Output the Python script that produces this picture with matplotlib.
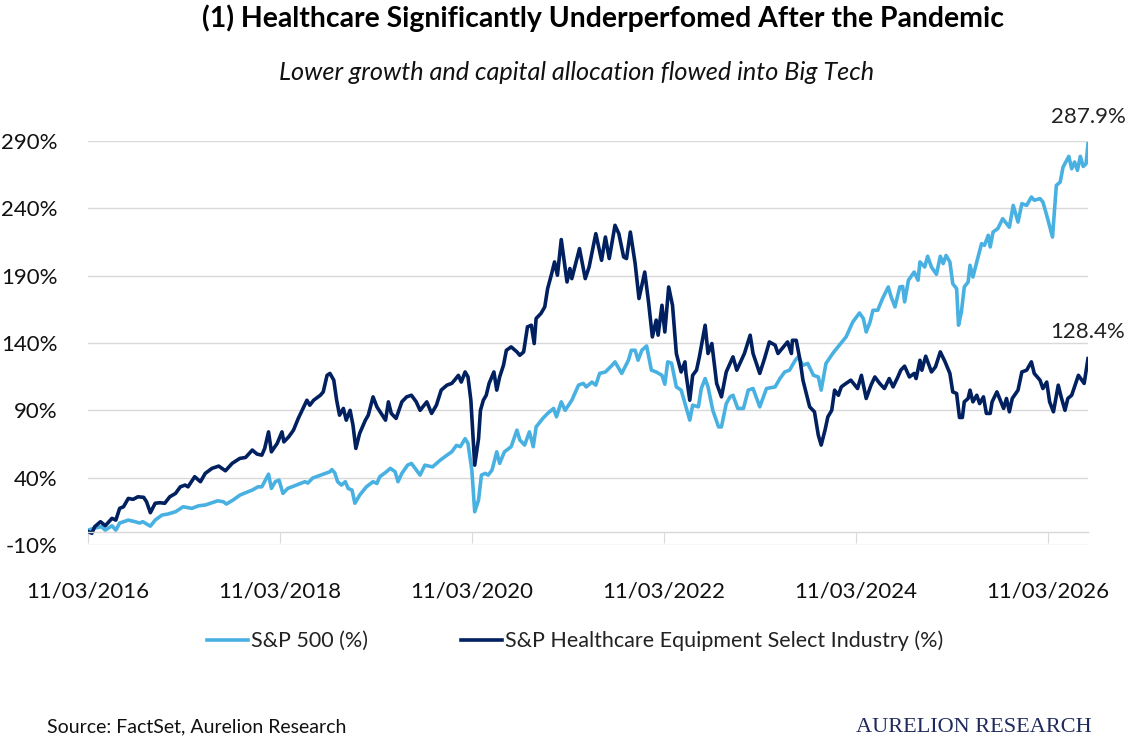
import pandas as pd
import matplotlib
matplotlib.use("Agg")
from matplotlib import pyplot as plt
import matplotlib.dates as mdates

# Dates are decimal years, values are cumulative return in %
sp500_t = [2016.19, 2016.26, 2016.33, 2016.37, 2016.44, 2016.48, 2016.52, 2016.61, 2016.68, 2016.73,
           2016.76, 2016.84, 2016.89, 2016.96, 2017.02, 2017.10, 2017.18, 2017.27, 2017.34, 2017.41,
           2017.48, 2017.54, 2017.60, 2017.63, 2017.70, 2017.77, 2017.83, 2017.90, 2017.96, 2018.00,
           2018.07, 2018.10, 2018.14, 2018.18, 2018.22, 2018.27, 2018.36, 2018.45, 2018.48, 2018.53,
           2018.64, 2018.71, 2018.73, 2018.76, 2018.79, 2018.83, 2018.87, 2018.90, 2018.94, 2018.97,
           2019.02, 2019.09, 2019.16, 2019.20, 2019.23, 2019.30, 2019.34, 2019.39, 2019.42, 2019.46,
           2019.52, 2019.56, 2019.65, 2019.70, 2019.78, 2019.86, 2019.93, 2019.98, 2020.03, 2020.07,
           2020.12, 2020.15, 2020.19, 2020.22, 2020.26, 2020.29, 2020.33, 2020.36, 2020.40, 2020.45,
           2020.48, 2020.53, 2020.60, 2020.66, 2020.69, 2020.74, 2020.79, 2020.83, 2020.86, 2020.93,
           2020.98, 2021.04, 2021.07, 2021.12, 2021.16, 2021.23, 2021.30, 2021.35, 2021.38, 2021.44,
           2021.48, 2021.52, 2021.58, 2021.65, 2021.68, 2021.75, 2021.82, 2021.85, 2021.89, 2021.92,
           2021.96, 2022.01, 2022.06, 2022.11, 2022.17, 2022.20, 2022.23, 2022.27, 2022.32, 2022.37,
           2022.41, 2022.46, 2022.49, 2022.55, 2022.58, 2022.62, 2022.65, 2022.70, 2022.76, 2022.79,
           2022.84, 2022.88, 2022.91, 2022.96, 2023.02, 2023.07, 2023.12, 2023.19, 2023.26, 2023.35,
           2023.40, 2023.45, 2023.50, 2023.56, 2023.59, 2023.64, 2023.69, 2023.75, 2023.80, 2023.83,
           2023.88, 2023.95, 2024.02, 2024.09, 2024.16, 2024.23, 2024.27, 2024.30, 2024.34, 2024.37,
           2024.42, 2024.47, 2024.53, 2024.56, 2024.60, 2024.65, 2024.68, 2024.70, 2024.74, 2024.80,
           2024.84, 2024.86, 2024.91, 2024.94, 2024.98, 2025.03, 2025.07, 2025.10, 2025.13, 2025.17,
           2025.20, 2025.24, 2025.26, 2025.29, 2025.32, 2025.36, 2025.38, 2025.41, 2025.45, 2025.50,
           2025.53, 2025.57, 2025.59, 2025.62, 2025.67, 2025.72, 2025.79, 2025.83, 2025.86, 2025.88,
           2025.92, 2025.97, 2026.02, 2026.05, 2026.11, 2026.14, 2026.18, 2026.24, 2026.28, 2026.32,
           2026.35, 2026.41, 2026.44, 2026.47, 2026.50, 2026.53, 2026.56, 2026.59, 2026.61]
sp500_v = [1, 2.6, 3.6, 1, 4.3, 1, 6.3, 8.5, 7.3, 6.3,
           7.3, 4, 8.5, 12.2, 13, 14.7, 18.4, 17.2, 19.1, 19.7,
           21.4, 22.8, 22.1, 20.4, 23.4, 27, 28.8, 30.8, 33.2, 33.2,
           42.6, 32, 37, 38.2, 28.3, 32, 34.5, 37, 36, 39.7,
           42.6, 44.4, 46, 43.6, 37, 34.5, 37, 32, 30.8, 21,
           27, 33.2, 37, 35.7, 40.7, 44.4, 46.9, 44.4, 37, 43.2,
           49.3, 50.6, 41.9, 49.3, 48, 53, 56.7, 59.2, 64, 63,
           69, 65.4, 45.6, 14.7, 23.4, 41.9, 43.2, 41.9, 45.6, 59.2,
           50.6, 59.2, 63, 75.3, 68, 64.2, 74, 63, 77.7, 84,
           87.7, 91.4, 85.2, 96.3, 90, 97.5, 108.7, 110, 107.4, 111,
           108.7, 117.4, 118.5, 123.5, 126, 117.4, 127.2, 134.6, 134.6, 127.2,
           134.6, 137.8, 119.8, 118.5, 116, 109.4, 126, 125, 107.4, 105,
           95, 82.7, 93.8, 92.6, 106.2, 113.6, 107.4, 90, 77.7, 77.7,
           95, 100, 101.2, 91.4, 91.4, 105, 106.2, 92.6, 106.2, 107.4,
           113.6, 118.5, 119.8, 127.2, 129.7, 123.5, 124.8, 116, 114.8, 105,
           124.8, 132.2, 138.4, 144.5, 155.6, 162.3, 158.2, 148.2, 155.6, 164.3,
           164.3, 173, 181.6, 174.2, 166.8, 181.6, 182, 170.5, 186.6, 192.7,
           186.6, 200.2, 196.4, 204.4, 196.4, 191, 204.4, 199, 205, 200.2,
           184, 180.4, 153.2, 163, 181.6, 185.3, 197.7, 189, 200.2, 213.8,
           212.5, 220, 211.3, 222.4, 225, 232.3, 226, 242.2, 234.8, 229.8,
           243.5, 242.2, 248.4, 246, 247.2, 244.7, 234.8, 218.7, 257, 259.5,
           270.6, 278.6, 269.4, 274.4, 268.2, 278.6, 271.1, 273.1, 287.9]

hc_t = [2016.19, 2016.23, 2016.26, 2016.32, 2016.37, 2016.44, 2016.48, 2016.52, 2016.56, 2016.61,
        2016.66, 2016.71, 2016.77, 2016.80, 2016.84, 2016.89, 2016.94, 2016.99, 2017.04, 2017.10,
        2017.15, 2017.20, 2017.23, 2017.30, 2017.36, 2017.41, 2017.48, 2017.55, 2017.62, 2017.69,
        2017.77, 2017.83, 2017.90, 2017.95, 2018.00, 2018.03, 2018.07, 2018.10, 2018.16, 2018.21,
        2018.23, 2018.28, 2018.33, 2018.38, 2018.43, 2018.47, 2018.50, 2018.54, 2018.61, 2018.64,
        2018.68, 2018.71, 2018.75, 2018.78, 2018.81, 2018.85, 2018.88, 2018.92, 2018.95, 2018.98,
        2019.02, 2019.08, 2019.11, 2019.16, 2019.20, 2019.29, 2019.32, 2019.35, 2019.40, 2019.46,
        2019.51, 2019.56, 2019.61, 2019.65, 2019.72, 2019.77, 2019.82, 2019.87, 2019.93, 2019.98,
        2020.01, 2020.05, 2020.08, 2020.12, 2020.15, 2020.18, 2020.22, 2020.26, 2020.28, 2020.31,
        2020.34, 2020.37, 2020.42, 2020.45, 2020.48, 2020.52, 2020.55, 2020.60, 2020.66, 2020.69,
        2020.73, 2020.77, 2020.81, 2020.84, 2020.86, 2020.91, 2020.95, 2020.98, 2021.02, 2021.05,
        2021.08, 2021.12, 2021.18, 2021.21, 2021.23, 2021.31, 2021.37, 2021.41, 2021.48, 2021.54,
        2021.58, 2021.62, 2021.68, 2021.72, 2021.77, 2021.80, 2021.84, 2021.89, 2021.93, 2021.99,
        2022.03, 2022.07, 2022.11, 2022.13, 2022.17, 2022.20, 2022.24, 2022.28, 2022.32, 2022.37,
        2022.41, 2022.42, 2022.46, 2022.49, 2022.53, 2022.56, 2022.62, 2022.65, 2022.69, 2022.74,
        2022.79, 2022.84, 2022.88, 2022.91, 2022.95, 2023.03, 2023.09, 2023.12, 2023.19, 2023.24,
        2023.29, 2023.35, 2023.38, 2023.48, 2023.52, 2023.53, 2023.57, 2023.61, 2023.64, 2023.71,
        2023.76, 2023.80, 2023.83, 2023.87, 2023.90, 2023.94, 2023.97, 2024.01, 2024.04, 2024.09,
        2024.14, 2024.21, 2024.25, 2024.30, 2024.35, 2024.39, 2024.44, 2024.49, 2024.54, 2024.58,
        2024.63, 2024.66, 2024.70, 2024.75, 2024.80, 2024.82, 2024.86, 2024.88, 2024.92, 2024.98,
        2025.02, 2025.07, 2025.12, 2025.17, 2025.20, 2025.24, 2025.27, 2025.30, 2025.32, 2025.36,
        2025.38, 2025.41, 2025.45, 2025.48, 2025.52, 2025.55, 2025.59, 2025.61, 2025.66, 2025.73,
        2025.76, 2025.79, 2025.82, 2025.88, 2025.92, 2025.97, 2026.02, 2026.05, 2026.11, 2026.14,
        2026.18, 2026.21, 2026.25, 2026.30, 2026.33, 2026.37, 2026.40, 2026.44, 2026.51, 2026.57,
        2026.61]
hc_v = [0, -1.3, 3.6, 7.3, 4.3, 9.8, 8.5, 17.2, 18.4, 24.6,
        23.9, 25.8, 25.4, 22.1, 14, 21, 21.4, 21, 25.8, 28.3,
        33.2, 34.5, 33.2, 40.7, 37, 43.2, 46.9, 48.6, 45.1, 50.6,
        54.3, 55, 60.5, 57.5, 56.7, 61.7, 74, 59.2, 65.4, 74,
        66.6, 70.3, 75.3, 84, 91.4, 97.5, 93.8, 97.5, 101.2, 103.7,
        116, 117.4, 112.4, 97.5, 86.4, 91.4, 82.7, 90, 79, 61.7,
        72.8, 82.7, 86.4, 100, 92.6, 82.7, 96.3, 87.7, 84, 96.3,
        100, 101.2, 96.3, 90, 96.3, 87.7, 93.8, 105, 108.7, 110,
        112.4, 116, 111, 118.5, 114.8, 97.5, 49.3, 69, 90, 97.5,
        101.2, 110, 118.5, 105, 114.8, 123.5, 134.6, 137.1, 133.4, 130.9,
        133.4, 152, 153.2, 139.6, 158.2, 161.9, 166.8, 180.4, 191.5, 200.2,
        190.3, 216.8, 185.3, 195.3, 187.8, 210.1, 187.8, 196.4, 221.2, 201.4,
        218.7, 202.7, 227.4, 221.2, 203.9, 202.7, 222.4, 199, 173, 192.7,
        170.5, 144.5, 157, 145.8, 168, 148.2, 181.6, 168, 132.2, 118.5,
        126, 117.4, 97.5, 116, 119.8, 129.7, 153.2, 132.2, 139.6, 110,
        100, 118.5, 124.8, 129.7, 119.8, 132.2, 145.8, 132.2, 117.4, 128.5,
        140.8, 138.4, 132.2, 140.8, 132.2, 142, 142, 127.2, 112.4, 92.6,
        88.9, 71.6, 64.2, 75.3, 85.2, 90, 105, 101.2, 107.4, 110,
        112.4, 106.2, 116, 98.8, 108.7, 114.8, 110, 106.2, 113.6, 107.4,
        114.8, 119.8, 122.8, 114.8, 117.4, 113.6, 127.2, 119.8, 130.2, 118.5,
        122.3, 133.4, 126, 117.4, 103.7, 102.5, 84.7, 84.7, 96.3, 98.8,
        105, 96.3, 101.2, 95, 100, 87.7, 87.7, 96.3, 103.7, 91.4,
        98.8, 88.9, 98.8, 105, 118.5, 119.8, 126, 117.4, 112.4, 106.2,
        111, 96.3, 88.9, 108.7, 100, 90, 98.8, 101.2, 116, 110,
        128.4]

tick_dates = ['2016-03-11', '2018-03-11', '2020-03-11', '2022-03-11', '2024-03-11', '2026-03-11']
y_ticks = [-10, 40, 90, 140, 190, 240, 290]

title = '(1) Healthcare Significantly Underperfomed After the Pandemic'
subtitle = 'Lower growth and capital allocation flowed into Big Tech'
names = ['S&P 500 (%)', 'S&P Healthcare Equipment Select Industry (%)']
colors = ['#48B1E2', '#002060']


def to_dates(years):
    out = []
    for y in years:
        yr = int(y)
        out.append(pd.Timestamp(yr, 1, 1) + pd.Timedelta(days=(y - yr) * 365.25))
    return out


plt.rcParams['font.family'] = ['Lato', 'DejaVu Sans']

fig = plt.figure(figsize=(11.32, 7.51), dpi=100)
ax = fig.add_axes([88 / 1132, 1 - 545 / 751, 1000 / 1132, 404 / 751])

sp_dates = to_dates(sp500_t)
hc_dates = to_dates(hc_t)
ax.plot(sp_dates, sp500_v, color=colors[0], linewidth=2.6, label=names[0], solid_joinstyle='round')
ax.plot(hc_dates, hc_v, color=colors[1], linewidth=2.6, label=names[1], solid_joinstyle='round')

# end labels
for d, v in [(sp_dates[-1], sp500_v[-1]), (hc_dates[-1], hc_v[-1])]:
    ax.annotate(f'{v:.1f}%', xy=(d, v), xytext=(0, 17), textcoords='offset pixels',
                ha='center', va='bottom', fontsize=16, color='#222222')

ax.set_xlim(sp_dates[0], sp_dates[-1])
ax.set_ylim(-10, 290)
ax.set_yticks(y_ticks)
ax.set_yticklabels([f'{t}%' for t in y_ticks])
ax.yaxis.grid(True, color='#D9D9D9', linewidth=1)
ax.set_axisbelow(True)

ax.set_xticks(pd.to_datetime(tick_dates))
ax.xaxis.set_major_formatter(mdates.DateFormatter('%d/%m/%Y'))

for s in ['top', 'right', 'left']:
    ax.spines[s].set_visible(False)
ax.spines['bottom'].set_position(('data', 0))
ax.spines['bottom'].set_color('#D9D9D9')
ax.spines['bottom'].set_linewidth(1)
ax.tick_params(axis='x', direction='out', length=8, color='#D9D9D9', pad=28,
               labelsize=16, labelcolor='#111111')
ax.tick_params(axis='y', length=0, pad=22, labelsize=16, labelcolor='#111111')

fig.text(603 / 1132, 1 - 18 / 751, title, ha='center', va='center', fontsize=20.4,
         fontweight='bold', color='#000000')
fig.text(577 / 1132, 1 - 72 / 751, subtitle, ha='center', va='center', fontsize=18.2,
         style='italic', color='#111111')

fig.legend(loc='center', bbox_to_anchor=(575 / 1132, 1 - 641 / 751), ncol=2, frameon=False,
           fontsize=15.5, handlelength=1.9, handletextpad=0.15, columnspacing=4.3,
           labelcolor='#222222')

fig.text(47 / 1132, 1 - 727 / 751, 'Source: FactSet, Aurelion Research', ha='left', va='center',
         fontsize=14, color='#111111')
fig.text(1092 / 1132, 1 - 727 / 751, 'AURELION RESEARCH', ha='right', va='center',
         fontsize=16, color='#1F2A5C', family=['Liberation Serif', 'DejaVu Serif'])

fig.savefig('out.png', dpi=100)
